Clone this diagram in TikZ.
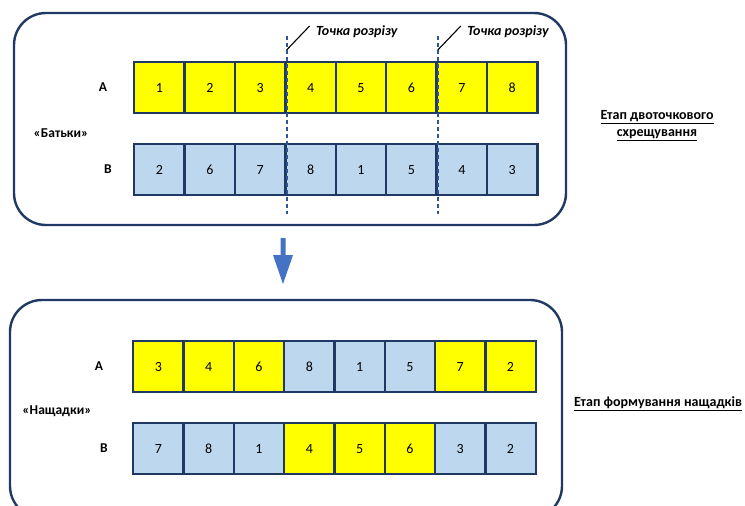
\documentclass[tikz,border=0pt]{standalone}
\usepackage{fontspec}
\setmainfont{Carlito}
\usetikzlibrary{calc}
\definecolor{navy}{HTML}{203864}
\definecolor{cellyellow}{HTML}{FFFF00}
\definecolor{cellblue}{HTML}{BDD7EE}
\definecolor{cutblue}{HTML}{2F5597}
\definecolor{arrowblue}{HTML}{4472C4}
\begin{document}
\begin{tikzpicture}[x=1pt,y=-1pt,
  cell/.style={draw=navy,line width=2.4pt,minimum width=50.4pt,minimum height=51pt,
    inner sep=0pt,font=\fontsize{14}{16}\selectfont,anchor=north west},
  yc/.style={cell,fill=cellyellow},
  bc/.style={cell,fill=cellblue},
  frame/.style={draw=navy,line width=2.4pt,rounded corners=32pt},
  rowlab/.style={font=\bfseries\fontsize{13.5}{15}\selectfont},
  cutline/.style={draw=cutblue,line width=2pt,dash pattern=on 4pt off 3pt},
  cutlab/.style={font=\bfseries\itshape\fontsize{14}{16}\selectfont,anchor=west},
  stage/.style={font=\bfseries\fontsize{14}{17}\selectfont,align=center}]
\useasboundingbox (0,0) rectangle (745,506);
\begin{scope}
\clip (0,0) rectangle (745,506);
% parents block
\draw[frame] (14,13) rectangle (566,225);
% children block (its lower edge runs past the page)
\draw[frame] (10,300) rectangle (562,518);
\end{scope}

% parent chromosomes
\foreach \v [count=\i] in {1,2,3,4,5,6,7,8}
  \node[yc] (pa\i) at ({133+(\i-1)*50.4},61) {\v};
\foreach \v [count=\i] in {2,6,7,8,1,5,4,3}
  \node[bc] (pb\i) at ({133+(\i-1)*50.4},143) {\v};

% offspring chromosomes
\foreach \v/\s [count=\i] in {3/yc,4/yc,6/yc,8/bc,1/bc,5/bc,7/yc,2/yc}
  \node[\s] (ca\i) at ({132+(\i-1)*50.3},340) {\v};
\foreach \v/\s [count=\i] in {7/bc,8/bc,1/bc,4/yc,5/yc,6/yc,3/bc,2/bc}
  \node[\s] (cb\i) at ({132+(\i-1)*50.3},422) {\v};

% row labels
\node[rowlab] (la) at (103,87) {A};
\node[rowlab] (lb) at (108,169) {B};
\node[rowlab] (lp) at (61,133) {«Батьки»};
\node[rowlab] (lca) at (99,366) {A};
\node[rowlab] (lcb) at (104,448) {B};
\node[rowlab] (lc) at (57,411) {«Нащадки»};

% cut points
\coordinate (c1t) at ($(pa3.north east)+(0,-25)$);
\coordinate (c1b) at ($(pb3.south east)+(0,18)$);
\coordinate (c2t) at ($(pa6.north east)+(0,-25)$);
\coordinate (c2b) at ($(pb6.south east)+(0,18)$);
\draw[cutline] (c1t) -- (c1b);
\draw[cutline] (c2t) -- (c2b);
\coordinate (k1) at ($(pa3.north east)+(0,-11)$);
\coordinate (k2) at ($(pa6.north east)+(0,-11)$);
\coordinate (e1) at ($(k1)+(23,-24)$);
\coordinate (e2) at ($(k2)+(23,-24)$);
\draw[line width=1.1pt] (k1) -- (e1);
\draw[line width=1.1pt] (k2) -- (e2);
\node[cutlab] (t1) at ($(e1)+(3,6)$) {Точка розрізу};
\node[cutlab] (t2) at ($(e2)+(3,6)$) {Точка розрізу};

% stage captions
\node[stage] (s1) at (657,126) {\underline{Етап двоточкового}\\\underline{схрещування}};
\node[stage] (s2) at (658,404) {\underline{Етап формування нащадків}};

% transition arrow
\coordinate (ar) at (283,238);
\fill[arrowblue] ($(ar)+(-2.5,0)$) -- ($(ar)+(2.5,0)$) -- ($(ar)+(2.5,17)$) -- ($(ar)+(10,17)$)
  -- ($(ar)+(0,46)$) -- ($(ar)+(-10,17)$) -- ($(ar)+(-2.5,17)$) -- cycle;
\end{tikzpicture}
\end{document}
